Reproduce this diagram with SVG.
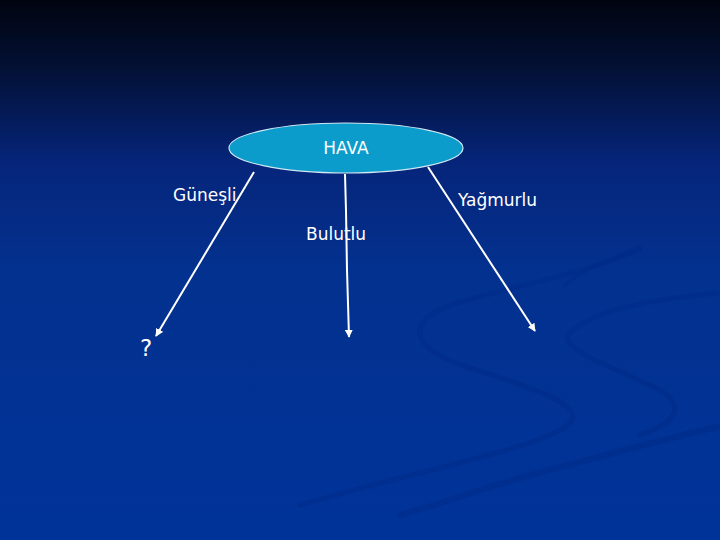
<svg xmlns="http://www.w3.org/2000/svg" width="720" height="540" viewBox="0 0 720 540">
<defs>
<linearGradient id="bg" x1="0" y1="0" x2="0" y2="1">
<stop offset="0" stop-color="#010410"/>
<stop offset="0.12" stop-color="#031033"/>
<stop offset="0.3" stop-color="#06257a"/>
<stop offset="0.5" stop-color="#03318f"/>
<stop offset="1" stop-color="#003399"/>
</linearGradient>
<marker id="ah" viewBox="0 0 10 10" refX="9" refY="5" markerWidth="4" markerHeight="4" orient="auto" markerUnits="strokeWidth">
<path d="M0,0 L10,5 L0,10 z" fill="#ffffff"/>
</marker>
<style>
.lbl{font-family:"DejaVu Sans","Liberation Sans",sans-serif;fill:#ffffff;font-size:17px}
.edge{stroke:#ffffff;stroke-width:2;fill:none;marker-end:url(#ah)}
.sw{fill:none;stroke:#002b88;stroke-linecap:round;opacity:0.45}
</style>
</defs>
<rect width="720" height="540" fill="url(#bg)"/>
<g id="swooshes">
<path class="sw" stroke-width="5" d="M640,247 C600,270 520,285 460,302 C400,320 410,350 470,368 C540,390 600,410 560,430 C520,452 440,465 300,505"/>
<path class="sw" stroke-width="5" d="M717,293 C650,300 590,310 568,335 C560,350 620,370 660,390 C690,410 670,425 640,435"/>
<path class="sw" stroke-width="6" d="M717,427 C640,445 580,462 520,478 C470,492 440,505 400,515"/>
<path class="sw" stroke-width="4" d="M640,250 C600,262 580,272 565,285"/>
</g>
<g id="connectors">
<line class="edge" x1="254" y1="172" x2="156" y2="336"/>
<polyline class="edge" points="345,174 346,211 347,270 349,337"/>
<line class="edge" x1="428" y1="167" x2="535" y2="331"/>
</g>
<g id="hava">
<ellipse cx="346" cy="148" rx="117" ry="25" fill="#0b9ccc" stroke="#cfe8f4" stroke-width="1.2"/>
<text class="lbl" x="346" y="154" text-anchor="middle">HAVA</text>
</g>
<g id="lbl-gunesli"><text class="lbl" x="173" y="201">Güneşli</text></g>
<g id="lbl-yagmurlu"><text class="lbl" x="458" y="206">Yağmurlu</text></g>
<g id="lbl-bulutlu"><text class="lbl" x="306" y="240">Bulutlu</text></g>
<g id="unknown"><text class="lbl" x="140" y="356" style="font-size:23px">?</text></g>
</svg>
